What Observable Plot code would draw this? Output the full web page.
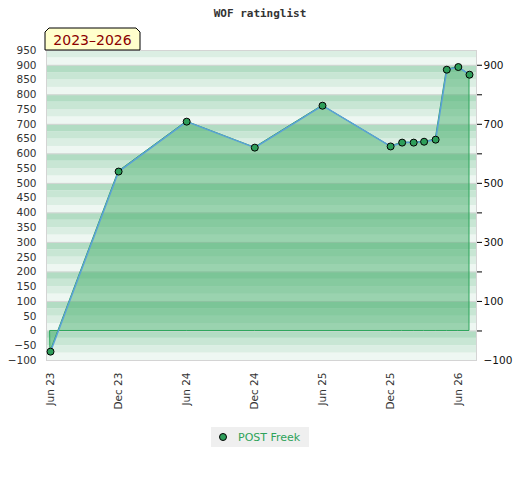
<!DOCTYPE html>
<html>
<head>
<meta charset="utf-8">
<script src="https://cdn.jsdelivr.net/npm/d3@7"></script>
<script src="https://cdn.jsdelivr.net/npm/@observablehq/plot@0.6"></script>
<style>
  body { margin: 0; background: #fff; width: 520px; }
  #title { height: 25px; line-height: 27px; text-align: center; font-family: "DejaVu Sans Mono", monospace; font-weight: bold; font-size: 11px; color: #333; }
  #legend { margin: 17px auto 0; width: 98px; height: 20px; background: #efefef; display: flex; align-items: center; font-family: "DejaVu Sans", sans-serif; font-size: 11px; color: #2ea35a; }
  #legend svg { margin-left: 7px; margin-right: 10px; }
</style>
</head>
<body>
<div id="title">WOF ratinglist</div>
<div id="chart"></div>
<div id="legend"><svg width="10" height="10"><circle cx="5" cy="5" r="3.5" fill="#2e9e5a" stroke="#000" stroke-width="1"/></svg><span>POST Freek</span></div>
<script>
const periodLabel = "2023–2026";
const seriesName = "POST Freek";
const months = ["2023-06","2023-12","2024-06","2024-12","2025-06","2025-12","2026-01","2026-02","2026-03","2026-04","2026-05","2026-06","2026-07"];
const ratings = [-70, 540, 709, 621, 763, 625, 638, 638, 641, 648, 885, 894, 868];
const xTickMonths = ["2023-06","2023-12","2024-06","2024-12","2025-06","2025-12","2026-06"];
const leftTicks = d3.range(-100, 951, 50);
const rightLabelTicks = [-100, 100, 300, 500, 700, 900];
const rightMarkTicks = d3.range(0, 901, 100);

const parse = d3.utcParse("%Y-%m");
const data = months.map((m, i) => ({date: parse(m), value: ratings[i]}));
const xTicks = xTickMonths.map(parse);

const bandColors = {0: "#eef7f2", 25: "#dbeee3", 50: "#c8e6d4", 75: "#b2dcc3"};
const bands = d3.range(-100, 950, 25).map(v => ({y1: v, y2: v + 25, c: bandColors[((v % 100) + 100) % 100]}));

const chart = Plot.plot({
  width: 520,
  height: 385,
  marginTop: 25,
  marginBottom: 50,
  marginLeft: 46,
  marginRight: 44,
  style: {fontFamily: "DejaVu Sans, sans-serif", fontSize: "10.5px", overflow: "visible"},
  x: {type: "utc", domain: [parse("2023-06"), parse("2026-07")], insetLeft: 4, insetRight: 7},
  y: {domain: [-100, 950]},
  marks: [
    Plot.rectY(bands, {y1: "y1", y2: "y2", fill: "c"}),
    Plot.ruleY(d3.range(-100, 951, 100), {stroke: "#d6d6d6", strokeWidth: 1}),
    Plot.frame({stroke: "#d4d4d4"}),
    Plot.areaY(data, {x: "date", y: "value", fill: "#3fab67", fillOpacity: 0.48, stroke: "#2ca55a", strokeWidth: 1}),
    Plot.lineY(data, {x: "date", y: "value", stroke: "#5aa0d8", strokeWidth: 1.5}),
    Plot.dot(data, {x: "date", y: "value", r: 3.5, fill: "#2e9e5a", stroke: "#000", strokeWidth: 1}),
    Plot.axisY({anchor: "left", ticks: leftTicks, tickSize: 0, tickPadding: 10, label: null, fill: "#333"}),
    Plot.axisY({anchor: "right", ticks: rightMarkTicks, tickSize: 5, tickFormat: () => "", label: null, stroke: "#000"}),
    Plot.axisY({anchor: "right", ticks: rightLabelTicks, tickSize: 0, tickPadding: 7, label: null, fill: "#111"}),
    Plot.axisX({ticks: xTicks, tickFormat: d3.utcFormat("%b %y"), tickRotate: -90, tickSize: 0, tickPadding: 12, label: null, fill: "#333"})
  ]
});
document.getElementById("chart").appendChild(chart);

// period label box in the top margin
const svg = d3.select(chart);
const g = svg.append("g");
const x0 = 45, x1 = 140, y0 = 3, y1 = 25, c = 4;
g.append("path")
  .attr("d", `M${x0},${y1}L${x0},${y0 + c}L${x0 + c},${y0}L${x1 - c},${y0}L${x1},${y0 + c}L${x1},${y1}Z`)
  .attr("fill", "#ffffcc").attr("stroke", "#000").attr("stroke-width", 1);
g.append("text").attr("x", (x0 + x1) / 2).attr("y", 20).attr("text-anchor", "middle")
  .attr("font-family", "DejaVu Sans, sans-serif").attr("font-size", 14).attr("fill", "#8b0000")
  .text(periodLabel);
</script>
</body>
</html>
